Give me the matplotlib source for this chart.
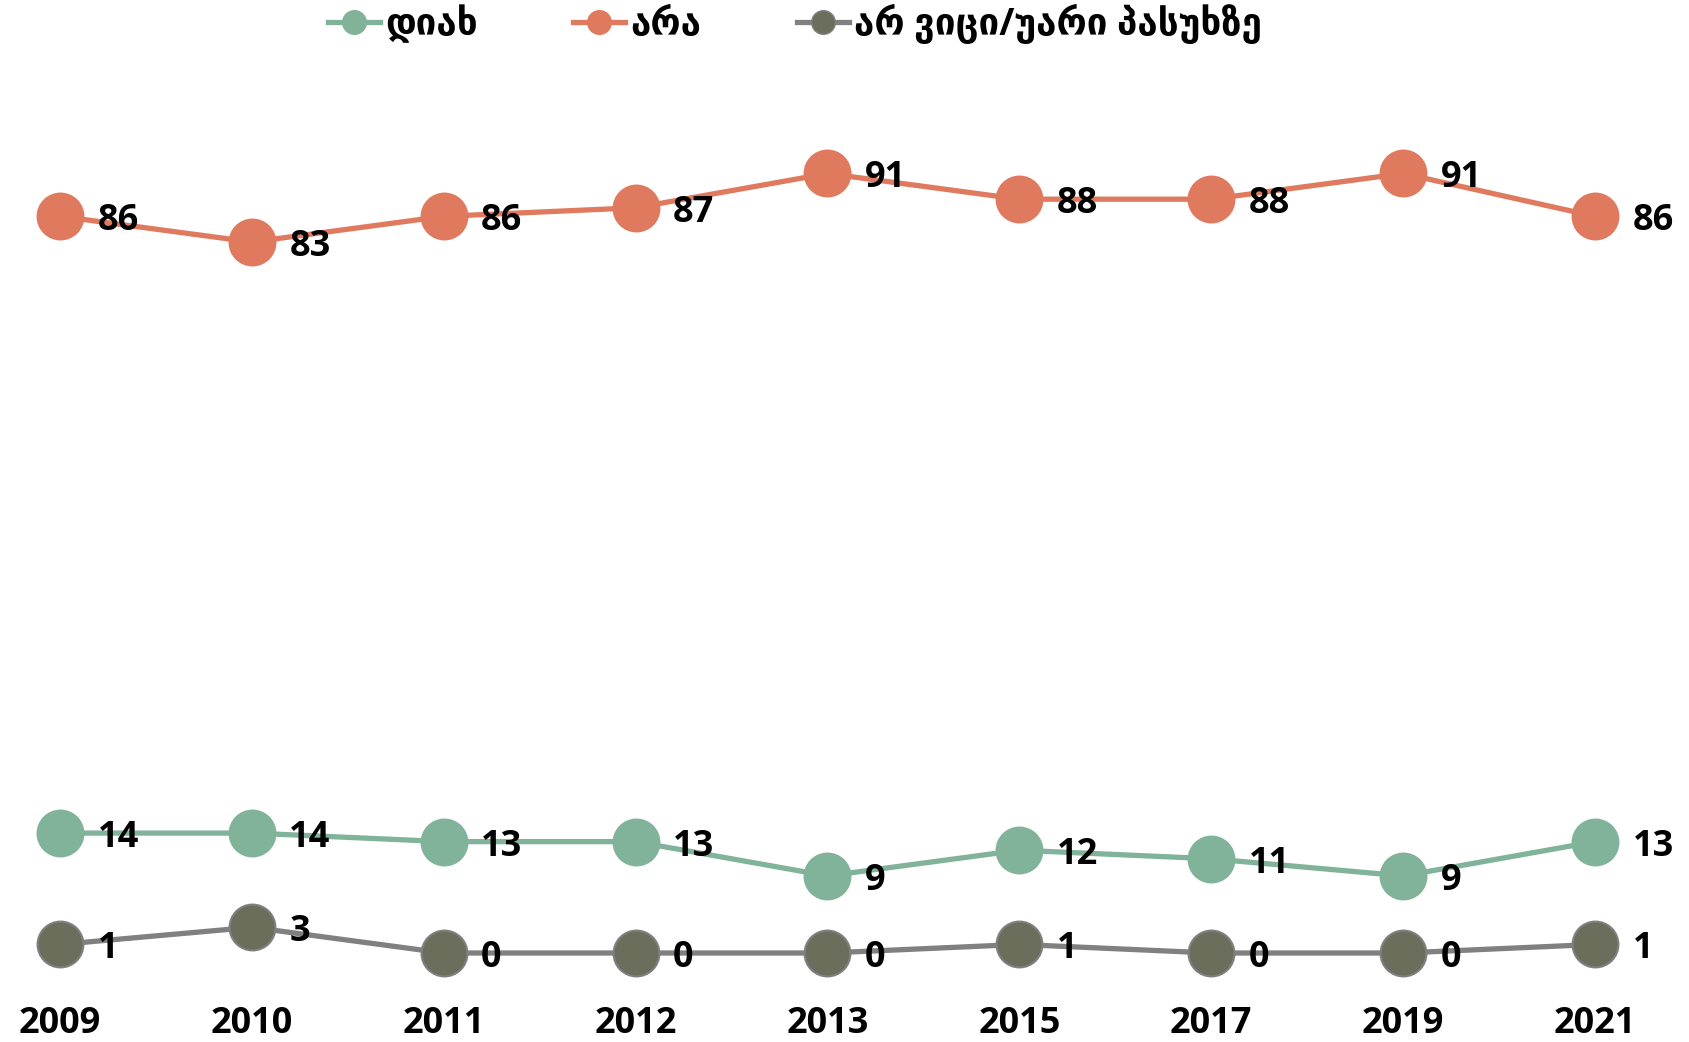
import matplotlib

matplotlib.use("Agg")
import matplotlib.pyplot as plt
from matplotlib.lines import Line2D

years = ["2009", "2010", "2011", "2012", "2013", "2015", "2017", "2019", "2021"]
yes_vals = [14, 14, 13, 13, 9, 12, 11, 9, 13]
no_vals = [86, 83, 86, 87, 91, 88, 88, 91, 86]
dk_vals = [1, 3, 0, 0, 0, 1, 0, 0, 1]

series_names = ["დიახ", "არა", "არ ვიცი/უარი პასუხზე"]

FONT = ["Open Sans", "DejaVu Sans"]
GREEN = "#80b39a"
ORANGE = "#e07a5f"
OLIVE = "#6b6e5a"
GREY = "#808080"


def draw_series(ax, x, vals, line_color, face_color, edge_color):
    ax.plot(
        x,
        vals,
        color=line_color,
        linewidth=3.8,
        marker="o",
        markersize=33,
        markerfacecolor=face_color,
        markeredgecolor=edge_color,
        markeredgewidth=1.5,
        clip_on=False,
        zorder=2,
    )
    for xi, v in zip(x, vals):
        ax.annotate(
            str(v),
            (xi, v),
            xytext=(27, -3.5),
            textcoords="offset points",
            ha="left",
            va="center",
            fontsize=26,
            fontweight="bold",
            family=FONT,
            color="black",
            zorder=5,
            annotation_clip=False,
        )


fig = plt.figure(figsize=(16.9, 10.42), dpi=100)
ax = fig.add_axes([60 / 1690, 89 / 1042, 1535 / 1690, 779.5 / 1042])

x = list(range(len(years)))
draw_series(ax, x, no_vals, ORANGE, ORANGE, ORANGE)
draw_series(ax, x, yes_vals, GREEN, GREEN, GREEN)
draw_series(ax, x, dk_vals, GREY, OLIVE, GREY)

ax.set_xlim(0, len(years) - 1)
ax.set_ylim(0, 91)
ax.set_xticks(x)
ax.set_xticklabels(years, fontsize=26, fontweight="bold", family=FONT)
ax.tick_params(axis="x", length=0, pad=38)
ax.set_yticks([])
for s in ax.spines.values():
    s.set_visible(False)

handles = [
    Line2D([], [], color=GREEN, linewidth=3.8, marker="o", markersize=17,
           markerfacecolor=GREEN, markeredgecolor=GREEN),
    Line2D([], [], color=ORANGE, linewidth=3.8, marker="o", markersize=17,
           markerfacecolor=ORANGE, markeredgecolor=ORANGE),
    Line2D([], [], color=GREY, linewidth=3.8, marker="o", markersize=17,
           markerfacecolor=OLIVE, markeredgecolor=GREY),
]
fig.legend(
    handles,
    series_names,
    loc="center",
    bbox_to_anchor=(795 / 1690, 1 - 24 / 1042),
    ncol=3,
    frameon=False,
    handlelength=1.4,
    handletextpad=0.15,
    columnspacing=2.6,
    prop={"family": FONT, "size": 26.5, "weight": "bold"},
)

fig.savefig("out.png", dpi=100)
plt.close(fig)
